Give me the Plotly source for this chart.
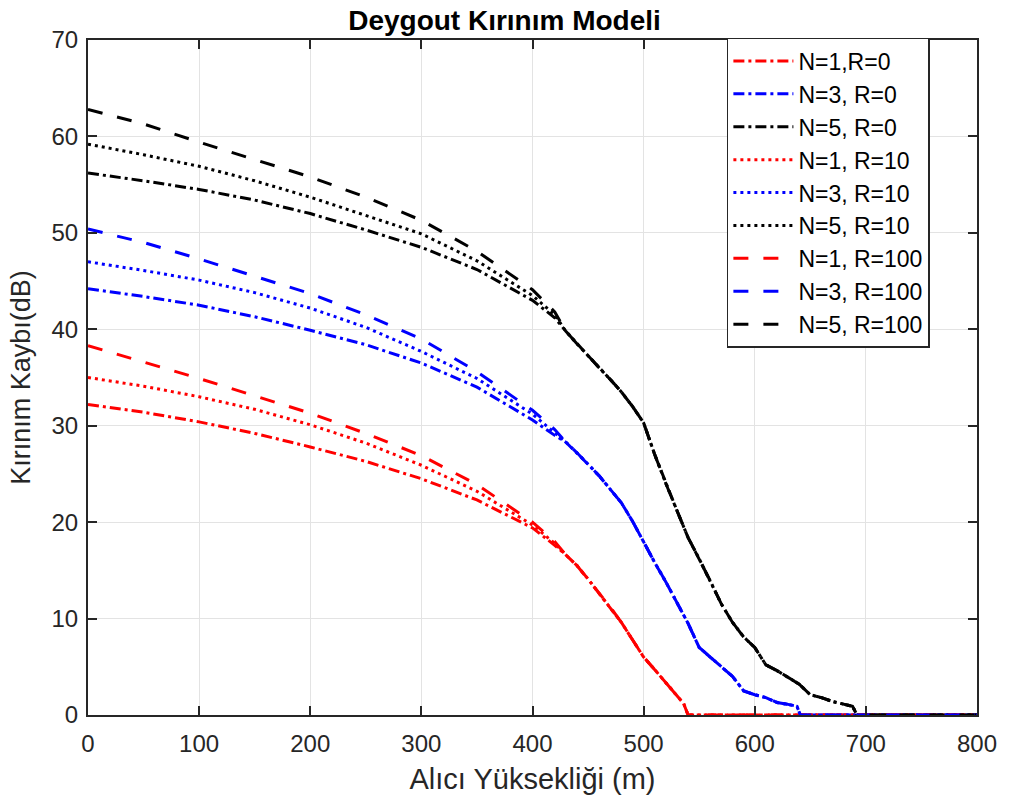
import plotly.graph_objects as go

# ---- data ----
x_head = [0, 50, 100, 150, 200, 250, 300, 350, 400, 420]

n1_r0_head = [32.2, 31.4, 30.4, 29.2, 27.8, 26.3, 24.5, 22.3, 19.4, 17.6]
n1_r10_head = [35.0, 34.1, 33.0, 31.7, 30.1, 28.2, 25.9, 23.2, 19.7, 17.8]
n1_r100_head = [38.3, 36.6, 34.9, 33.1, 31.3, 29.2, 26.9, 23.9, 20.0, 18.0]

n3_r0_head = [44.2, 43.4, 42.5, 41.3, 39.9, 38.4, 36.5, 34.0, 30.6, 29.0]
n3_r10_head = [47.0, 46.1, 45.1, 43.8, 42.2, 40.2, 37.7, 34.9, 31.2, 29.3]
n3_r100_head = [50.4, 49.0, 47.3, 45.5, 43.7, 41.5, 39.0, 35.6, 31.6, 29.6]

n5_r0_head = [56.2, 55.4, 54.5, 53.4, 52.0, 50.3, 48.5, 46.2, 43.0, 41.2]
n5_r10_head = [59.2, 58.1, 56.9, 55.4, 53.7, 51.8, 49.9, 47.1, 43.5, 41.5]
n5_r100_head = [62.8, 61.3, 59.4, 57.6, 55.8, 53.7, 51.3, 48.1, 44.1, 41.8]

# shared tails (curves for different R coincide beyond ~420 m)
n1_tail_x = [430, 440, 450, 460, 470, 480, 490, 500, 510, 520, 530, 536, 540, 800]
n1_tail_y = [16.6, 15.5, 14.1, 12.6, 11.2, 9.6, 7.8, 6.0, 4.7, 3.4, 2.0, 1.2, 0.0, 0.0]

n3_tail_x = [430, 440, 450, 460, 470, 480, 490, 500, 510, 520, 530, 540, 550,
             560, 570, 580, 590, 600, 610, 620, 630, 638, 641, 800]
n3_tail_y = [28.3, 27.2, 26.0, 24.8, 23.4, 22.0, 20.1, 17.9, 15.8, 13.8, 11.6, 9.5, 7.0,
             6.0, 5.0, 4.0, 2.5, 2.1, 1.8, 1.3, 1.1, 0.9, 0.0, 0.0]

n5_tail_x = [430, 440, 450, 460, 470, 480, 490, 500, 510, 520, 530, 540, 550,
             560, 570, 580, 590, 600, 610, 620, 630, 640, 650, 660, 670, 680, 688, 692, 800]
n5_tail_y = [39.8, 38.5, 37.3, 36.0, 34.8, 33.5, 32.0, 30.3, 27.0, 24.0, 21.2, 18.4, 16.2,
             13.9, 11.5, 9.6, 8.1, 7.0, 5.2, 4.6, 3.9, 3.2, 2.1, 1.8, 1.4, 1.1, 0.9, 0.0, 0.0]

names = ["N=1,R=0", "N=3, R=0", "N=5, R=0",
         "N=1, R=10", "N=3, R=10", "N=5, R=10",
         "N=1, R=100", "N=3, R=100", "N=5, R=100"]

heads = [n1_r0_head, n3_r0_head, n5_r0_head,
         n1_r10_head, n3_r10_head, n5_r10_head,
         n1_r100_head, n3_r100_head, n5_r100_head]
tails_x = [n1_tail_x, n3_tail_x, n5_tail_x] * 3
tails_y = [n1_tail_y, n3_tail_y, n5_tail_y] * 3

colors = ["#ff0000", "#0000ff", "#000000"] * 3
dashes = ["11px,4px,3px,4px"] * 3 + ["3px,4px"] * 3 + ["15px,15px"] * 3

FONT = "Liberation Sans, Arial, Helvetica, sans-serif"

fig = go.Figure()
for name, h, tx, ty, c, d in zip(names, heads, tails_x, tails_y, colors, dashes):
    fig.add_trace(go.Scatter(
        x=x_head + tx, y=h + ty, mode="lines", name=name,
        line=dict(color=c, width=3, dash=d),
    ))

axis_common = dict(
    showline=True, linecolor="#262626", linewidth=2, mirror="ticks",
    ticks="inside", ticklen=9, tickwidth=2, tickcolor="#262626",
    showgrid=True, gridcolor="#e3e3e3", gridwidth=1, zeroline=False,
    tickfont=dict(family=FONT, size=24, color="#262626"),
)

fig.update_layout(
    width=1009, height=805,
    margin=dict(l=88, r=27, t=40, b=90),
    paper_bgcolor="white", plot_bgcolor="white",
    title=dict(text="<b>Deygout Kırınım Modeli</b>", x=0.5, xanchor="center",
               y=0.987, yanchor="top",
               font=dict(family=FONT, size=28, color="#000000")),
    xaxis=dict(range=[0, 800], dtick=100, tick0=0, ticklabelstandoff=6,
               title=dict(text="Alıcı Yüksekliği (m)", standoff=13,
                          font=dict(family=FONT, size=29, color="#262626")),
               **axis_common),
    yaxis=dict(range=[0, 70], dtick=10, tick0=0, ticklabelstandoff=3,
               title=dict(text="Kırınım Kaybı(dB)", standoff=13,
                          font=dict(family=FONT, size=27, color="#262626")),
               **axis_common),
    legend=dict(x=0.947, xanchor="right", y=1.003, yanchor="top",
                bgcolor="white", bordercolor="#262626", borderwidth=1.5,
                font=dict(family=FONT, size=23, color="#000000"),
                itemwidth=60, tracegroupgap=0),
    showlegend=True,
)

fig.write_html("out.html")
